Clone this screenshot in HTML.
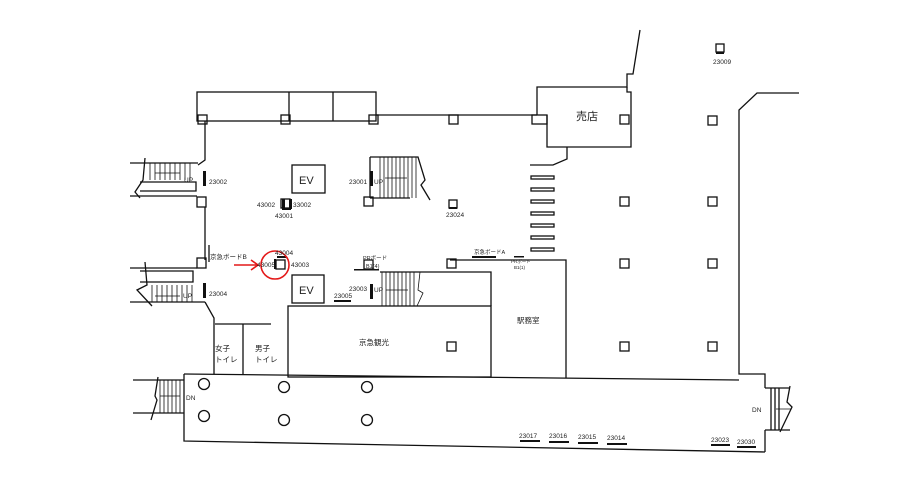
<!DOCTYPE html>
<html><head><meta charset="utf-8"><style>
html,body{margin:0;padding:0;background:#fff;}
svg{display:block;font-family:"Liberation Sans","Noto Sans CJK JP",sans-serif;}
</style></head><body>
<svg width="919" height="491" viewBox="0 0 919 491" xmlns="http://www.w3.org/2000/svg">
<g fill="none" stroke="#111" stroke-width="1.3">
<rect x="197" y="92" width="179" height="29"/>
<line x1="289" y1="92" x2="289" y2="121"/>
<line x1="333" y1="92" x2="333" y2="121"/>
<line x1="376" y1="115" x2="537" y2="115"/>
<polyline points="537,115 537,87 627,87 627,74 633,74 640,30"/>
<polyline points="627,87 627,92 631,92 631,147 547,147 547,115"/>
<polyline points="567,147 567,159 553,165 530,165"/>
<polyline points="799,93 757,93 739,110 739,374 765,374 765,388"/>
<polyline points="765,430 765,452"/>
<line x1="765" y1="388" x2="790" y2="388"/>
<line x1="765" y1="430" x2="790" y2="430"/>
<line x1="771" y1="388" x2="771" y2="430"/>
<line x1="775" y1="388" x2="775" y2="430"/>
<line x1="779" y1="388" x2="779" y2="430"/>
<polyline points="790,386 787,402 792,407 780,432"/>
<polyline points="184,374 184,441 765,452"/>
<line x1="184" y1="374" x2="739" y2="380"/>
<line x1="133" y1="380" x2="184" y2="380"/>
<line x1="133" y1="413" x2="184" y2="413"/>
<polyline points="158,377 155,396 157,400 151,420"/>
<polyline points="205,121 205,160 198,165"/>
<line x1="205" y1="207" x2="205" y2="260"/>
<line x1="209" y1="245" x2="209" y2="262"/>
<polyline points="205,302 214,318 214,374"/>
<line x1="130" y1="163" x2="198" y2="163"/>
<line x1="130" y1="196" x2="197" y2="196"/>
<polyline points="140,182 196,182 196,191 140,191"/>
<polyline points="145,158 143,180 135,192 140,198"/>
<line x1="130" y1="268" x2="197" y2="268"/>
<line x1="130" y1="302" x2="205" y2="302"/>
<polyline points="140,271 193,271 193,282 140,282"/>
<polyline points="145,262 147,285 137,290 152,306"/>
<line x1="215" y1="324" x2="271" y2="324"/>
<line x1="243" y1="324" x2="243" y2="375"/>
<rect x="288" y="306" width="203" height="71"/>
<polyline points="420,272 491,272 491,306"/>
<polyline points="450,260 566,260 566,378"/>
<line x1="380" y1="272" x2="420" y2="272"/>
<rect x="292" y="165" width="33" height="28"/>
<rect x="292" y="275" width="32" height="28"/>
<polyline points="370,157 418,157 425,180 421,185 430,200"/>
<line x1="370" y1="157" x2="370" y2="198"/>
<line x1="370" y1="198" x2="410" y2="198"/>
<rect x="198" y="115" width="9" height="9"/><rect x="281" y="115" width="9" height="9"/>
<rect x="369" y="115" width="9" height="9"/><rect x="449" y="115" width="9" height="9"/>
<rect x="532" y="115" width="15" height="9"/><rect x="620" y="115" width="9" height="9"/>
<rect x="708" y="116" width="9" height="9"/>
<rect x="197" y="197" width="9" height="10"/><rect x="197" y="258" width="9" height="10"/>
<rect x="364" y="197" width="9" height="9"/><rect x="364" y="260" width="9" height="9"/>
<rect x="447" y="259" width="9" height="9"/>
<rect x="620" y="197" width="9" height="9"/><rect x="708" y="197" width="9" height="9"/>
<rect x="620" y="259" width="9" height="9"/><rect x="708" y="259" width="9" height="9"/>
<rect x="447" y="342" width="9" height="9"/>
<rect x="620" y="342" width="9" height="9"/><rect x="708" y="342" width="9" height="9"/>
<rect x="449" y="200" width="8" height="8"/><rect x="716" y="44" width="8" height="8"/>
<rect x="276" y="260" width="9" height="9"/>
<rect x="281" y="199" width="9" height="9"/>
<circle cx="204" cy="384" r="5.5"/><circle cx="284" cy="387" r="5.5"/><circle cx="367" cy="387" r="5.5"/>
<circle cx="204" cy="416" r="5.5"/><circle cx="284" cy="420" r="5.5"/><circle cx="367" cy="420" r="5.5"/>
<rect x="531" y="176" width="23" height="3"/><rect x="531" y="188" width="23" height="3"/>
<rect x="531" y="200" width="23" height="3"/><rect x="531" y="212" width="23" height="3"/>
<rect x="531" y="224" width="23" height="3"/><rect x="531" y="236" width="23" height="3"/>
<rect x="531" y="248" width="23" height="3"/>
</g>
<g stroke="#111" stroke-width="0.8" fill="none">
<path d="M150 163V180M155 163V180M160 163V180M165 163V180M170 163V180M175 163V180M180 163V180M185 163V180M190 163V180"/>
<path d="M152 285V302M157 285V302M162 285V302M167 285V302M172 285V302M177 285V302M182 285V302M187 285V302M192 285V302"/>
<path d="M160 380V413M164 380V413M168 380V413M172 380V413M176 380V413M180 380V413"/>
<path d="M380 157V198M384 157V198M388 157V198M392 157V198M396 157V198M400 157V198M404 157V198M408 157V198M412 157V198M416 157V198"/>
<path d="M382 272V306M386 272V306M390 272V306M394 272V306M398 272V306M402 272V306M406 272V306M410 272V306M414 272V306"/>
<path d="M420 272L418 290 423 293 417 306"/>
<path d="M155 173H180M155 296H180M160 396H180M385 178H407M386 290H408M776 409H791"/>
</g>
<g fill="#111">
<rect x="203" y="171" width="3" height="15"/><rect x="203" y="283" width="3" height="15"/>
<rect x="370" y="171" width="3" height="15"/><rect x="370" y="284" width="3" height="15"/>
<rect x="334" y="300" width="17" height="2"/>
<rect x="282" y="199" width="3" height="10"/><rect x="289" y="199" width="3" height="10"/><rect x="282" y="208" width="9" height="2"/>
<rect x="274" y="259" width="2" height="10"/><rect x="277" y="256" width="9" height="2"/>
<rect x="449" y="207" width="8" height="2"/><rect x="716" y="52" width="8" height="2"/>
<rect x="472" y="256" width="24" height="2"/><rect x="354" y="269" width="25" height="1.5"/>
<rect x="514" y="256" width="10" height="1.5"/>
<rect x="520" y="440" width="20" height="2"/><rect x="549" y="441" width="20" height="2"/>
<rect x="578" y="442" width="20" height="2"/><rect x="607" y="443" width="20" height="2"/>
<rect x="711" y="444" width="19" height="2"/><rect x="737" y="446" width="19" height="2"/>
</g>
<circle cx="275" cy="265" r="14" fill="none" stroke="#e41818" stroke-width="1.6"/>
<path d="M234 265H258M251 260L258 265 251 270" fill="none" stroke="#e41818" stroke-width="1.6"/>
<g fill="#222" font-size="6.5">
<text x="209" y="184">23002</text><text x="209" y="296">23004</text>
<text x="349" y="184">23001</text><text x="349" y="291">23003</text>
<text x="334" y="298">23005</text>
<text x="257" y="207">43002</text><text x="293" y="207">33002</text><text x="275" y="218">43001</text>
<text x="275" y="255">43004</text><text x="257" y="267">43005</text><text x="291" y="267">43003</text>
<text x="446" y="217">23024</text><text x="713" y="64">23009</text>
<text x="210" y="259">京急ボードB</text>
<text x="519" y="438">23017</text><text x="549" y="438">23016</text><text x="578" y="439">23015</text><text x="607" y="440">23014</text>
<text x="711" y="442">23023</text><text x="737" y="444">23030</text>
<text x="184" y="182">UP</text><text x="183" y="298">UP</text>
<text x="374" y="184">UP</text><text x="374" y="292">UP</text>
<text x="186" y="400">DN</text><text x="752" y="412">DN</text>
<text x="474" y="254" font-size="5.5">京急ボードA</text>
<text x="363" y="260" font-size="5.5">PRボード</text><text x="366" y="268" font-size="5.5">B1(4)</text>
<text x="511" y="263" font-size="4.5">PRボード</text><text x="514" y="269" font-size="4.5">B1(1)</text>
<text x="517" y="323" font-size="7.5">駅務室</text>
<text x="359" y="345" font-size="7.5">京急観光</text>
<text x="215" y="351" font-size="7.5">女子</text><text x="215" y="362" font-size="7.5">トイレ</text>
<text x="255" y="351" font-size="7.5">男子</text><text x="255" y="362" font-size="7.5">トイレ</text>
<text x="576" y="120" font-size="11">売店</text>
<text x="299" y="184" font-size="11">EV</text><text x="299" y="294" font-size="11">EV</text>
</g>
</svg>
</body></html>
